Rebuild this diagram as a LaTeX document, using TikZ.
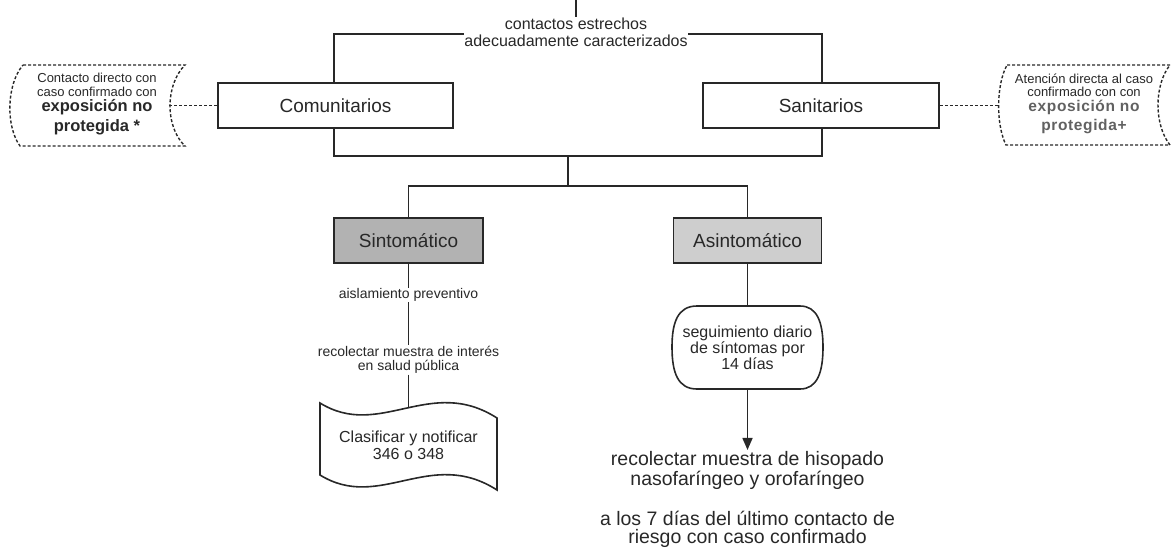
\documentclass[tikz,border=0pt]{standalone}
\usepackage{fontspec}
\setmainfont{Liberation Sans}
\usepackage{tikz}
\usetikzlibrary{arrows.meta}
\definecolor{grisA}{RGB}{178,178,178}
\definecolor{grisB}{RGB}{206,206,206}
\definecolor{tinta}{RGB}{40,40,40}

\begin{document}
\begin{tikzpicture}[x=1pt,y=1pt,yscale=-1,xscale=1,
        caja/.style={draw=tinta,line width=1.6,fill=white,minimum height=45,inner sep=0.75pt,text=tinta,font=\fontsize{19}{22}\selectfont},
        linea/.style={draw=tinta,line width=1.6},
        punteada/.style={draw=tinta,line width=1.4,dash pattern=on 3pt off 2pt},
        rotulo/.style={inner sep=0.75pt,align=center,text=tinta,fill=white}]
        \useasboundingbox (0,0) rectangle (1171,550);

        %Shape: Rectangle [id:marco]
        \draw (578,95) node [linea, minimum width=488, minimum height=122] (marco) {};
        % Text Node
        \draw (576,32.5) node [rotulo, font=\fontsize{16}{17}\selectfont] (ctx) {contactos estrechos\\adecuadamente caracterizados};
        \coordinate (inicio) at (576,0);
        \draw [linea] (inicio) -- (ctx);

        % Text Node
        \draw (335.5,105.5) node [caja, minimum width=235] (com) {Comunitarios};
        % Text Node
        \draw (821,105.5) node [caja, minimum width=236] (san) {Sanitarios};

        %Shape: Stored Data [id:izq]
        \draw [punteada] (23,65) -- (185,65) .. controls (165,85) and (165,127) .. (185,146) -- (20,146) .. controls (6,127) and (6,85) .. (23,65) -- cycle;
        \coordinate (izqborde) at (169,105.5);
        \draw (97,104) node [rotulo, fill=none, font=\fontsize{13}{13.5}\selectfont] (izq) {Contacto directo con\\caso confirmado con\\[1.5pt]{\bfseries\fontsize{16.5}{18}\selectfont exposición no}\\[3.5pt]{\bfseries\fontsize{16.5}{18}\selectfont protegida *}};
        \draw [punteada] (izqborde) -- (com.west);

        %Shape: Stored Data [id:der]
        \draw [punteada] (1007,65) -- (1170,65) .. controls (1154,85) and (1154,125) .. (1170,145) -- (1006,145) .. controls (996,125) and (996,85) .. (1007,65) -- cycle;
        \coordinate (derborde) at (999,105.5);
        \draw (1084,104) node [rotulo, fill=none, font=\fontsize{13}{13.5}\selectfont] (der) {Atención directa al caso\\confirmado con con\\[1.5pt]{\bfseries\color{black!62}\addfontfeature{LetterSpace=4}\fontsize{15.5}{18}\selectfont exposición no}\\[3.5pt]{\bfseries\color{black!62}\addfontfeature{LetterSpace=4}\fontsize{15.5}{18}\selectfont protegida+}};
        \draw [punteada] (san.east) -- (derborde);

        % Branch
        \coordinate (rama) at (568,186);
        \draw [linea] (marco.south -| rama) -- (rama);
        \draw (408.5,240.5) node [caja, fill=grisA, minimum width=149] (sint) {Sintomático};
        \draw (747.5,240.5) node [caja, fill=grisB, minimum width=148] (asint) {Asintomático};
        \draw [linea] (sint) |- (rama) -| (asint);

        % Text Node
        \draw (408.5,295) node [rotulo, font=\fontsize{14}{15}\selectfont] (aisl) {aislamiento preventivo};
        % Text Node
        \draw (408.5,360) node [rotulo, font=\fontsize{14}{14}\selectfont] (recol) {recolectar muestra de interés\\en salud pública};
        \draw [linea] (sint) -- (aisl);
        \draw [linea] (aisl) -- (recol);

        %Shape: Document [id:doc]
        \draw [linea, fill=white] (320,403) .. controls (380,440) and (430,375) .. (497,418) -- (497,490) .. controls (430,447) and (380,512) .. (320,475) -- cycle;
        \coordinate (doctope) at (408.5,407.5);
        \draw [linea] (recol) -- (doctope);
        \draw (408.5,445.5) node [rotulo, fill=none, font=\fontsize{16}{17}\selectfont] (doc) {Clasificar y notificar\\346 o 348};

        %Shape: Rounded box [id:seg]
        \draw [linea] (697,306) -- (800,306) .. controls (817,306) and (823,322) .. (823,347) .. controls (823,373) and (817,389) .. (800,389) -- (697,389) .. controls (678,389) and (672,373) .. (672,347) .. controls (672,322) and (678,306) .. (697,306) -- cycle;
        \draw (747.5,347.5) node [rotulo, fill=none, minimum width=149, minimum height=83, font=\fontsize{16}{16}\selectfont] (seg) {seguimiento diario\\de síntomas por\\14 días};
        \draw [linea] (asint) -- (seg);

        % Text Node
        \draw (747.5,470) node [rotulo, font=\fontsize{19.5}{20}\selectfont] (hisop) {recolectar muestra de hisopado\\nasofaríngeo y orofaríngeo};
        \draw [linea, -{Triangle[length=12,width=10]}] (seg) -- (hisop);
        % Text Node
        \draw (747.5,529) node [rotulo, font=\fontsize{19.5}{18}\selectfont] (riesgo) {a los 7 días del último contacto de\\riesgo con caso confirmado};

\end{tikzpicture}
\end{document}
